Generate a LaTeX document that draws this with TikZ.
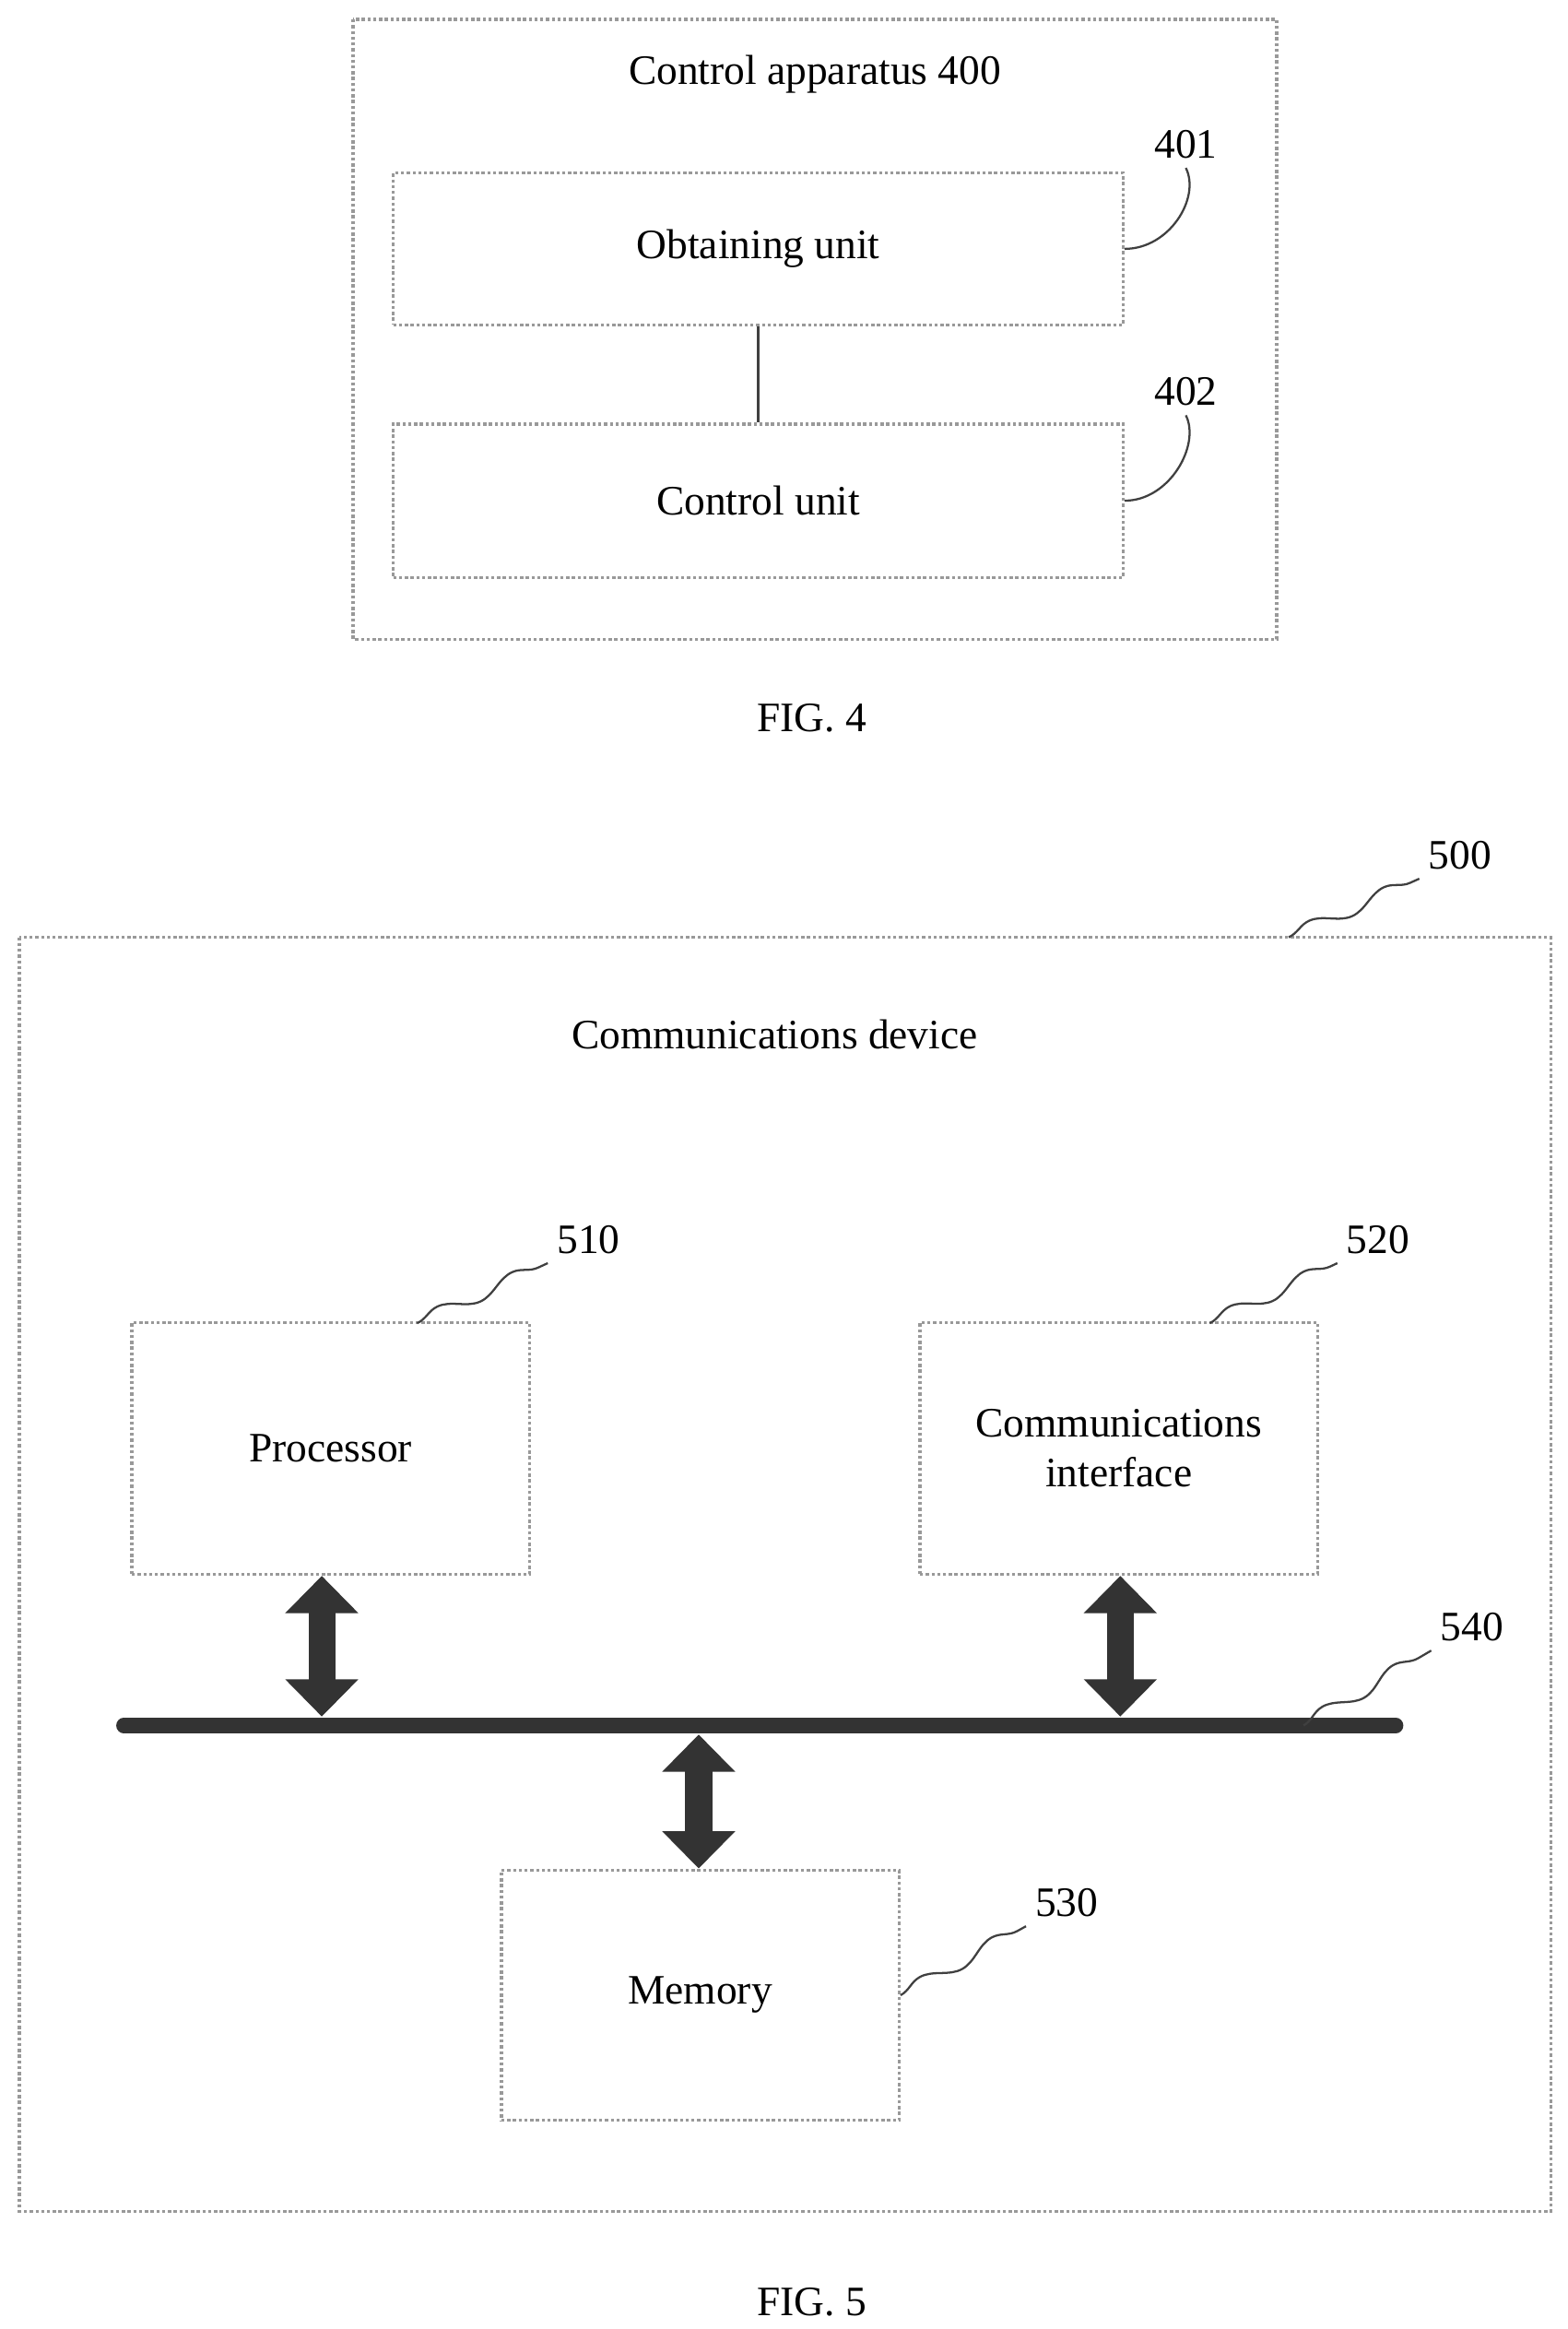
\documentclass[tikz,border=0pt]{standalone}
\usepackage{fontspec}
\setmainfont{Liberation Serif}
\usetikzlibrary{positioning, arrows.meta, decorations.pathmorphing}

\begin{document}
\begin{tikzpicture}[
    x=0.02cm, y=-0.02cm,
    outer/.style={draw=gray!80, densely dotted, line width=1.2pt},
    unit/.style={rectangle, draw=gray!80, densely dotted, line width=1.2pt, font=\fontsize{16}{19}\selectfont, align=center, inner sep=0pt},
    label/.style={font=\fontsize{16}{19}\selectfont},
    leader/.style={draw=gray!50!black, line width=0.8pt, decorate, decoration={snake, amplitude=0.9mm, segment length=11mm}},
    busarrow/.style={draw=gray!40!black, line width=0.36cm, {Triangle[width=0.95cm,length=0.5cm]}-{Triangle[width=0.95cm,length=0.5cm]}, shorten <=0pt, shorten >=0pt}
]
\useasboundingbox (0,0) rectangle (1052,1563);

% FIG. 4
\draw[outer] (237,13) rectangle (857,429);
\node[label] (apptitle) at (547,50) {Control apparatus 400};
\node[unit, minimum width=9.8cm, minimum height=2.04cm] (obtain) at (509,167) {Obtaining unit};
\node[unit, minimum width=9.8cm, minimum height=2.06cm] (control) at (509,336) {Control unit};
\draw[gray!50!black, line width=0.8pt] (obtain) -- (control);
\node[label] (n401) at (796,97) {401};
\node[label] (n402) at (796,263) {402};
\draw[gray!50!black, line width=0.8pt] (obtain.east) .. controls +(30,0) and +(10,20) .. (n401.south);
\draw[gray!50!black, line width=0.8pt] (control.east) .. controls +(30,0) and +(10,20) .. (n402.south);
\node[label] (fig4) at (545,482) {FIG. 4};

% FIG. 5
\draw[outer] (13,629) rectangle (1041,1484);
\coordinate (devcorner) at (865,629);
\node[label] (n500) at (980,574) {500};
\draw[leader] (devcorner) -- (n500.south west);
\node[label] (devtitle) at (520,694) {Communications device};

\node[unit, minimum width=5.34cm, minimum height=3.38cm] (proc) at (222,972) {Processor};
\node[unit, minimum width=5.34cm, minimum height=3.38cm] (comm) at (751,972) {Communications\\interface};
\node[unit, minimum width=5.34cm, minimum height=3.36cm] (mem) at (470,1339) {Memory};

\node[label] (n510) at (395,832) {510};
\node[label] (n520) at (925,832) {520};
\node[label] (n530) at (716,1277) {530};
\node[label] (n540) at (988,1092) {540};
\coordinate (proctop) at (280,888);
\coordinate (commtop) at (812,888);
\draw[leader] (proctop) -- (n510.south west);
\draw[leader] (commtop) -- (n520.south west);
\draw[leader] (mem.east) -- (n530.south west);

% bus
\coordinate (busL) at (83,1158);
\coordinate (busR) at (937,1158);
\coordinate (busP) at (216,1152);
\coordinate (busC) at (752,1152);
\coordinate (busM) at (469,1164);
\coordinate (bustap) at (875,1158);
\draw[gray!40!black, line width=0.2cm, line cap=round] (busL) -- (busR);
\draw[leader] (bustap) -- (n540.south west);

\draw[busarrow] (proc.south -| busP) -- (busP);
\draw[busarrow] (comm.south -| busC) -- (busC);
\draw[busarrow] (busM) -- (mem.north -| busM);

\node[label] (fig5) at (545,1545) {FIG. 5};
\end{tikzpicture}
\end{document}
